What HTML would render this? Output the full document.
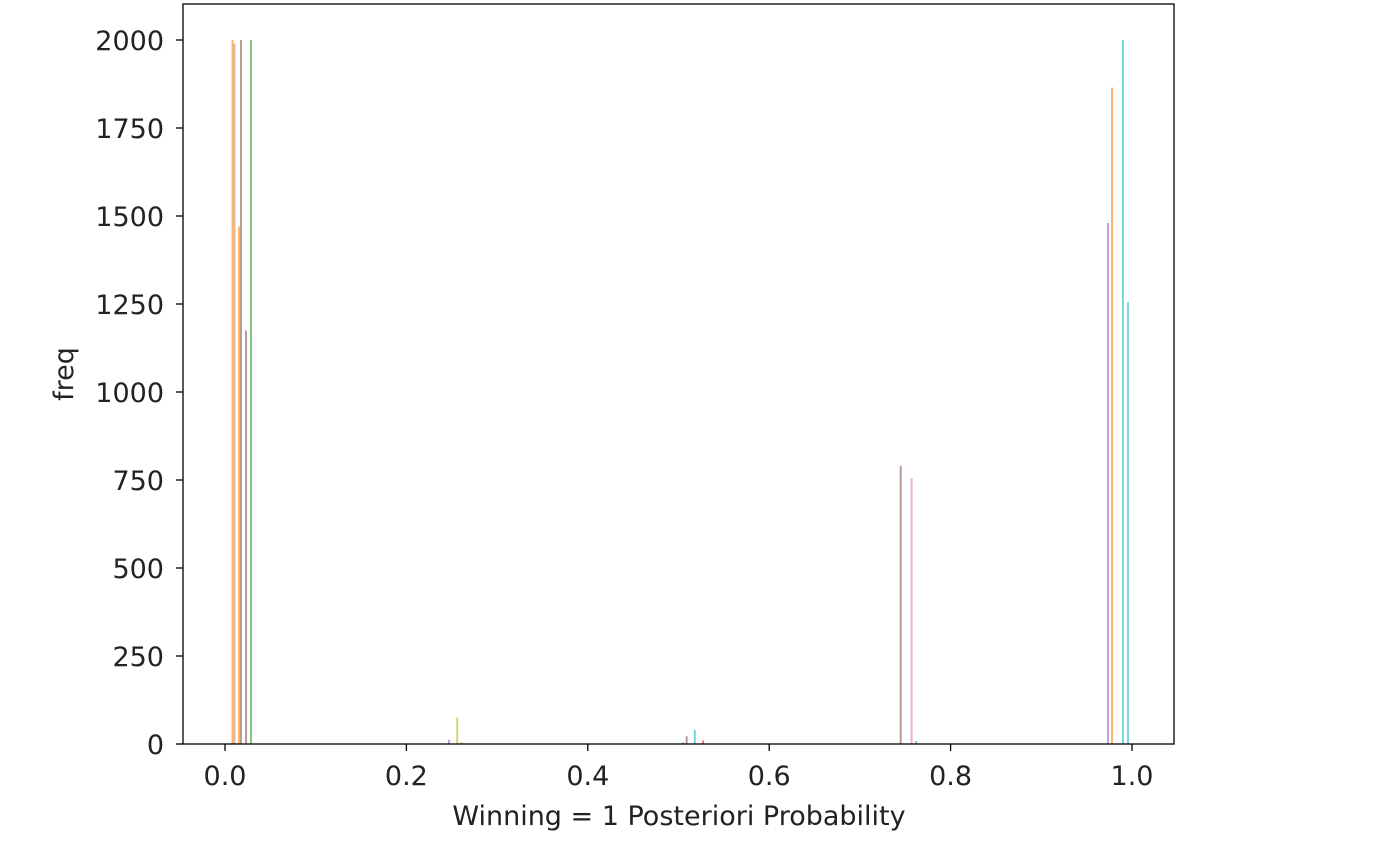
<!DOCTYPE html>
<html><head><meta charset="utf-8"><style>
html,body{margin:0;padding:0;background:#fff;}
svg{display:block;font-family:"DejaVu Sans","Liberation Sans",sans-serif;}
</style></head><body>
<svg id="chart" width="1384" height="844">
<g id="bars"></g>
<rect x="183" y="4" width="991" height="740" fill="none" stroke="#000" stroke-width="1.3"/>
<g id="xticks"></g>
<g id="yticks"></g>
<text x="679" y="825" font-size="27" text-anchor="middle" fill="#222">Winning = 1 Posteriori Probability</text>
<text transform="translate(73,374) rotate(-90)" font-size="27" text-anchor="middle" fill="#222">freq</text>
</svg>
<script>
const binCenters = [0.0083,0.0105,0.0154,0.0176,0.0232,0.0287,0.247,0.256,0.261,0.505,0.509,0.518,0.527,0.745,0.757,0.762,0.9735,0.978,0.990,0.9956];
const binFreqs   = [2000,1990,1470,2000,1175,2000,12,75,5,5,22,40,10,790,755,8,1480,1865,2000,1255];
const binColors  = ['#ff7f0e','#d08a5a','#ff7f0e','#8c564b','#8c564b','#2ca02c','#9467bd','#bcbd22','#bcbd22','#17becf','#8c564b','#17becf','#d62728','#8c564b','#e377c2','#2ca02c','#9467bd','#ff7f0e','#17becf','#17becf'];
const xTickVals = [0,0.2,0.4,0.6,0.8,1.0];
const xTickLabels = ['0.0','0.2','0.4','0.6','0.8','1.0'];
const yTickVals = [0,250,500,750,1000,1250,1500,1750,2000];
const yTickLabels = ['0','250','500','750','1000','1250','1500','1750','2000'];

const X = v => 225 + v*907;
const Y = v => 744 - v*0.352;
const NS='http://www.w3.org/2000/svg';
const bars=document.getElementById('bars');
binCenters.forEach((c,i)=>{
  const r=document.createElementNS(NS,'rect');
  r.setAttribute('x',X(c)-1);
  r.setAttribute('y',Y(binFreqs[i]));
  r.setAttribute('width',2);
  r.setAttribute('height',744-Y(binFreqs[i]));
  r.setAttribute('fill',binColors[i]);
  r.setAttribute('fill-opacity',0.6);
  
  
  bars.appendChild(r);
});
const xg=document.getElementById('xticks');
xTickVals.forEach((v,i)=>{
  const l=document.createElementNS(NS,'line');
  l.setAttribute('x1',X(v));l.setAttribute('x2',X(v));l.setAttribute('y1',744);l.setAttribute('y2',751);
  l.setAttribute('stroke','#000');l.setAttribute('stroke-width',1.3);
  
  
  xg.appendChild(l);
  const t=document.createElementNS(NS,'text');
  t.setAttribute('x',X(v));t.setAttribute('y',785);t.setAttribute('font-size',27);
  t.setAttribute('text-anchor','middle');t.setAttribute('fill','#222');
  t.textContent=xTickLabels[i];
  
  
  xg.appendChild(t);
});
const yg=document.getElementById('yticks');
yTickVals.forEach((v,i)=>{
  const l=document.createElementNS(NS,'line');
  l.setAttribute('x1',176);l.setAttribute('x2',183);l.setAttribute('y1',Y(v));l.setAttribute('y2',Y(v));
  l.setAttribute('stroke','#000');l.setAttribute('stroke-width',1.3);
  
  
  yg.appendChild(l);
  const t=document.createElementNS(NS,'text');
  t.setAttribute('x',164);t.setAttribute('y',Y(v)+10);t.setAttribute('font-size',27);
  t.setAttribute('text-anchor','end');t.setAttribute('fill','#222');
  t.textContent=yTickLabels[i];
  
  
  yg.appendChild(t);
});
</script>
</body></html>
